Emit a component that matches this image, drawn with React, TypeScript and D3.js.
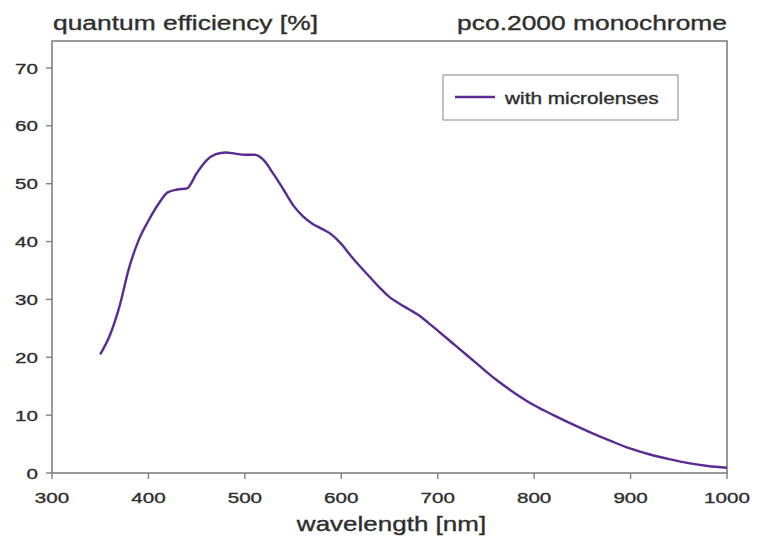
import React from "react";
import * as d3 from "d3";

const wavelengths = [350, 360, 370, 380, 390, 400, 410, 420, 430, 440, 450, 460, 470, 480, 490, 500, 510, 520, 530, 540, 550, 560, 570, 580, 590, 600, 610, 620, 630, 640, 650, 660, 670, 680, 690, 700, 710, 720, 740, 760, 780, 800, 820, 840, 860, 880, 900, 920, 940, 960, 980, 1000];
const efficiency = [20.5, 23.8, 28.8, 35.5, 40.3, 43.6, 46.4, 48.5, 49.0, 49.2, 51.8, 54.0, 55.1, 55.4, 55.2, 55.0, 55.0, 54.0, 51.6, 49.0, 46.3, 44.4, 43.1, 42.2, 41.2, 39.6, 37.5, 35.6, 33.8, 32.0, 30.4, 29.3, 28.3, 27.3, 26.0, 24.6, 23.2, 21.8, 19.0, 16.2, 13.8, 11.7, 10.0, 8.4, 6.9, 5.5, 4.2, 3.2, 2.4, 1.7, 1.2, 0.9];
const xTicks = [300, 400, 500, 600, 700, 800, 900, 1000];
const yTicks = [0, 10, 20, 30, 40, 50, 60, 70];
const seriesName = "with microlenses";
const titleLeft = "quantum efficiency [%]";
const titleRight = "pco.2000 monochrome";
const xLabel = "wavelength [nm]";

const W = 765;
const H = 542;
const left = 52;
const right = 727;
const top = 41;
const bottom = 473;

type WideProps = {
  x: number;
  y: number;
  size: number;
  sx: number;
  anchor?: "start" | "middle" | "end";
  children: React.ReactNode;
};

const textColor = "#2e2e2e";

function WideText({ x, y, size, sx, anchor = "start", children }: WideProps) {
  return (
    <text
      transform={`translate(${x},${y}) scale(${sx},1)`}
      fontSize={size}
      fill={textColor}
      stroke={textColor}
      strokeWidth={0.35}
      textAnchor={anchor}
    >
      {children}
    </text>
  );
}

export default function App() {
  const x = d3.scaleLinear().domain([300, 1000]).range([left, right]);
  const y = d3.scaleLinear().domain([0, 70]).range([bottom, 68]);
  const line = d3
    .line<number>()
    .x((_, i) => x(wavelengths[i]))
    .y((d) => y(d))
    .curve(d3.curveMonotoneX);
  const font = "'Liberation Sans', Arial, Helvetica, sans-serif";
  const axisColor = "#808080";
  const purple = "#5a2b93";
  return (
    <svg
      width={W}
      height={H}
      style={{ position: "absolute", left: 0, top: 0, background: "#fff" }}
      fontFamily={font}
    >
      <rect x={0} y={0} width={W} height={H} fill="#fff" />
      <WideText x={left + 1} y={30} size={20} sx={1.32}>
        {titleLeft}
      </WideText>
      <WideText x={right} y={30} size={20} sx={1.32} anchor="end">
        {titleRight}
      </WideText>
      <rect
        x={left}
        y={top}
        width={right - left}
        height={bottom - top}
        fill="none"
        stroke={axisColor}
        strokeWidth={1.6}
      />
      {yTicks.map((t) => (
        <g key={"y" + t}>
          <line x1={left - 6} x2={left} y1={y(t)} y2={y(t)} stroke={axisColor} strokeWidth={1.4} />
          <WideText x={left - 14} y={y(t) + 5.5} size={15.5} sx={1.33} anchor="end">
            {t}
          </WideText>
        </g>
      ))}
      {xTicks.map((t) => (
        <g key={"x" + t}>
          <line x1={x(t)} x2={x(t)} y1={bottom} y2={bottom + 6} stroke={axisColor} strokeWidth={1.4} />
          <WideText x={x(t)} y={bottom + 30} size={15.5} sx={1.33} anchor="middle">
            {t}
          </WideText>
        </g>
      ))}
      <WideText x={(left + right) / 2 + 2} y={531} size={20} sx={1.3} anchor="middle">
        {xLabel}
      </WideText>
      <path d={line(efficiency) || ""} fill="none" stroke={purple} strokeWidth={2.4} strokeLinejoin="round" />
      <rect x={443} y={75} width={235} height={45} fill="#fff" stroke="#9a9a9a" strokeWidth={1.2} />
      <line x1={455} x2={495} y1={97} y2={97} stroke={purple} strokeWidth={2.6} />
      <WideText x={505} y={104} size={16} sx={1.3}>
        {seriesName}
      </WideText>
    </svg>
  );
}
